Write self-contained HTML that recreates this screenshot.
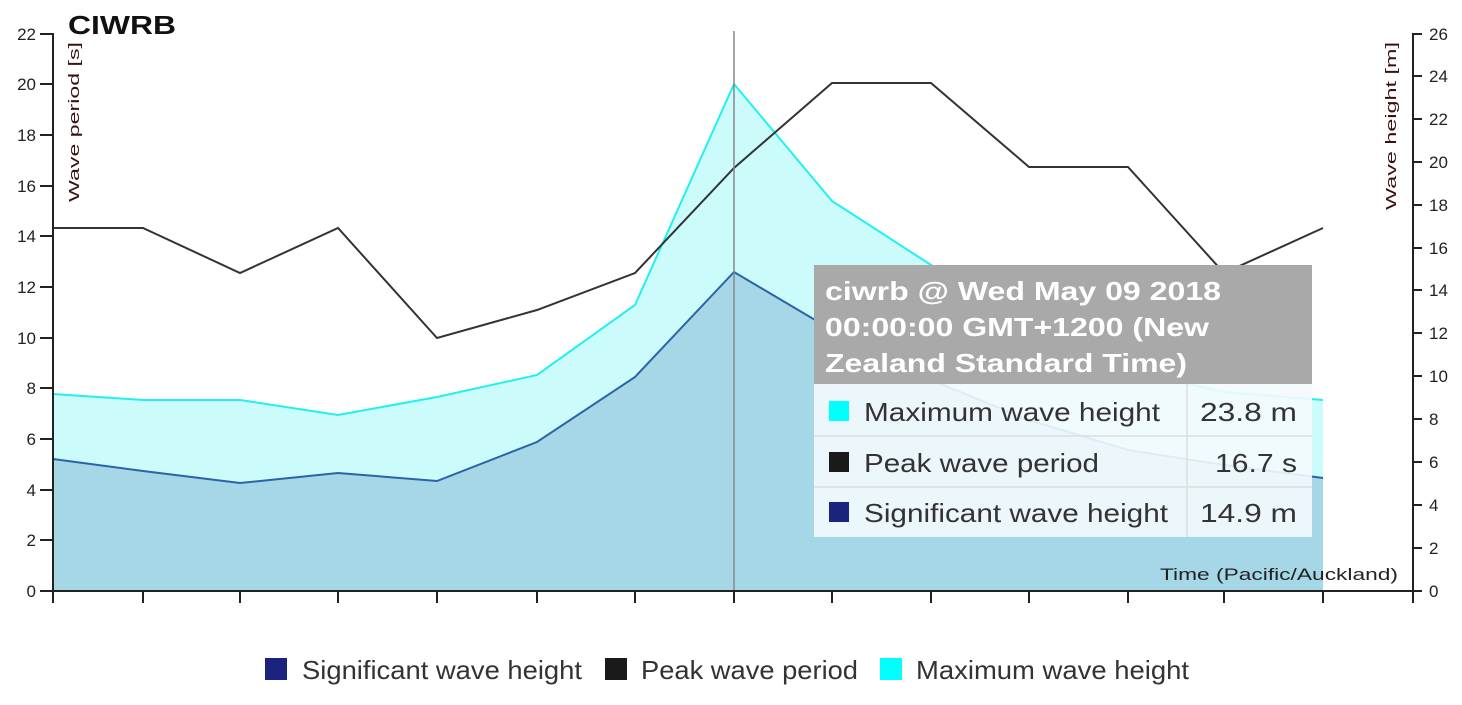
<!DOCTYPE html>
<html><head><meta charset="utf-8"><style>
body{margin:0;background:#fff;width:1462px;height:700px;overflow:hidden;font-family:"Liberation Sans",sans-serif}
</style></head><body>
<svg width="1462" height="700" xmlns="http://www.w3.org/2000/svg" font-family="Liberation Sans, sans-serif">
<polygon fill="#ccfbfb" points="53,591 53,394 143,400 240,400 338,415 437,397 537,375 635,305 734,84 832,201 931,265 1029,320 1128,370 1224,392 1323,400 1323,591"/>
<polygon fill="#a6d7e6" points="53,591 53,459 143,471 240,483 338,473 437,481 537,442 635,377 734,272 832,330 931,380 1029,420 1128,450 1224,465 1323,478 1323,591"/>
<polyline fill="none" stroke="#22f0f0" stroke-width="2" points="53,394 143,400 240,400 338,415 437,397 537,375 635,305 734,84 832,201 931,265 1029,320 1128,370 1224,392 1323,400"/>
<polyline fill="none" stroke="#2a64a8" stroke-width="2" points="53,459 143,471 240,483 338,473 437,481 537,442 635,377 734,272 832,330 931,380 1029,420 1128,450 1224,465 1323,478"/>
<polyline fill="none" stroke="#333" stroke-width="2" points="53,228 143,228 240,273 338,228 437,338 537,310 635,273 734,168 832,83 931,83 1029,167 1128,167 1224,273 1323,228"/>
<line x1="734" y1="31" x2="734" y2="591" stroke="#888" stroke-width="1.5"/>
<g stroke="#222" stroke-width="2">
<line x1="53" y1="33" x2="53" y2="591"/>
<line x1="1413" y1="33" x2="1413" y2="603"/>
<line x1="53" y1="591" x2="1413" y2="591"/>
<path d="M40 591H53M40 540H53M40 490H53M40 439H53M40 388H53M40 338H53M40 287H53M40 236H53M40 186H53M40 135H53M40 84H53M40 34H53"/>
<path d="M1413 591H1422M1413 548H1422M1413 505H1422M1413 462H1422M1413 419H1422M1413 376H1422M1413 333H1422M1413 290H1422M1413 248H1422M1413 205H1422M1413 162H1422M1413 119H1422M1413 76H1422M1413 34H1422"/>
<path d="M53 591V603M143 591V603M240 591V603M338 591V603M437 591V603M537 591V603M635 591V603M734 591V603M832 591V603M931 591V603M1029 591V603M1128 591V603M1224 591V603M1323 591V603"/>
</g>
<g font-size="17" fill="#222" text-anchor="end">
<text x="36" y="597">0</text><text x="36" y="546">2</text><text x="36" y="496">4</text><text x="36" y="445">6</text><text x="36" y="394">8</text><text x="36" y="344">10</text><text x="36" y="293">12</text><text x="36" y="242">14</text><text x="36" y="192">16</text><text x="36" y="141">18</text><text x="36" y="90">20</text><text x="36" y="40">22</text>
</g>
<g font-size="17" fill="#222">
<text x="1429" y="597">0</text><text x="1429" y="554">2</text><text x="1429" y="511">4</text><text x="1429" y="468">6</text><text x="1429" y="425">8</text><text x="1429" y="382">10</text><text x="1429" y="339">12</text><text x="1429" y="296">14</text><text x="1429" y="254">16</text><text x="1429" y="211">18</text><text x="1429" y="168">20</text><text x="1429" y="125">22</text><text x="1429" y="82">24</text><text x="1429" y="40">26</text>
</g>
<text x="68" y="34" font-size="26" font-weight="bold" fill="#111" textLength="108" lengthAdjust="spacingAndGlyphs">CIWRB</text>
<text transform="translate(79,42) rotate(-90)" font-size="15" fill="#3a1010" text-anchor="end" textLength="160" lengthAdjust="spacingAndGlyphs">Wave period [s]</text>
<text transform="translate(1396,42) rotate(-90)" font-size="15" fill="#3a1010" text-anchor="end" textLength="168" lengthAdjust="spacingAndGlyphs">Wave height [m]</text>
<text x="1398" y="580" font-size="17" fill="#222" text-anchor="end" textLength="238" lengthAdjust="spacingAndGlyphs">Time (Pacific/Auckland)</text>
<rect x="814" y="265" width="498" height="272" fill="#f4fbfd" fill-opacity="0.9"/>
<rect x="814" y="265" width="498" height="119" fill="#a9a9a9"/>
<g font-size="26" font-weight="bold" fill="#fff">
<text x="825" y="300" textLength="396" lengthAdjust="spacingAndGlyphs">ciwrb @ Wed May 09 2018</text>
<text x="825" y="336" textLength="384" lengthAdjust="spacingAndGlyphs">00:00:00 GMT+1200 (New</text>
<text x="825" y="372" textLength="362" lengthAdjust="spacingAndGlyphs">Zealand Standard Time)</text>
</g>
<g stroke="#ddd" stroke-width="1.5"><line x1="814" y1="436" x2="1312" y2="436"/><line x1="814" y1="487" x2="1312" y2="487"/><line x1="1187" y1="384" x2="1187" y2="537"/></g>
<rect x="829" y="401" width="20" height="20" fill="#00ffff"/>
<rect x="829" y="452" width="20" height="20" fill="#1a1a1a"/>
<rect x="829" y="502" width="20" height="20" fill="#1a237e"/>
<g font-size="26" fill="#333">
<text x="864" y="421" textLength="296" lengthAdjust="spacingAndGlyphs">Maximum wave height</text>
<text x="864" y="472" textLength="235" lengthAdjust="spacingAndGlyphs">Peak wave period</text>
<text x="864" y="522" textLength="304" lengthAdjust="spacingAndGlyphs">Significant wave height</text>
<text x="1297" y="421" text-anchor="end" textLength="97" lengthAdjust="spacingAndGlyphs">23.8 m</text>
<text x="1297" y="472" text-anchor="end" textLength="82" lengthAdjust="spacingAndGlyphs">16.7 s</text>
<text x="1297" y="522" text-anchor="end" textLength="97" lengthAdjust="spacingAndGlyphs">14.9 m</text>
</g>
<rect x="265" y="658" width="22" height="22" fill="#1a237e"/>
<rect x="605" y="658" width="22" height="22" fill="#1a1a1a"/>
<rect x="880" y="658" width="22" height="22" fill="#00ffff"/>
<g font-size="26" fill="#333">
<text x="302" y="679" textLength="280" lengthAdjust="spacingAndGlyphs">Significant wave height</text>
<text x="641" y="679" textLength="217" lengthAdjust="spacingAndGlyphs">Peak wave period</text>
<text x="916" y="679" textLength="273" lengthAdjust="spacingAndGlyphs">Maximum wave height</text>
</g>
</svg>
</body></html>
